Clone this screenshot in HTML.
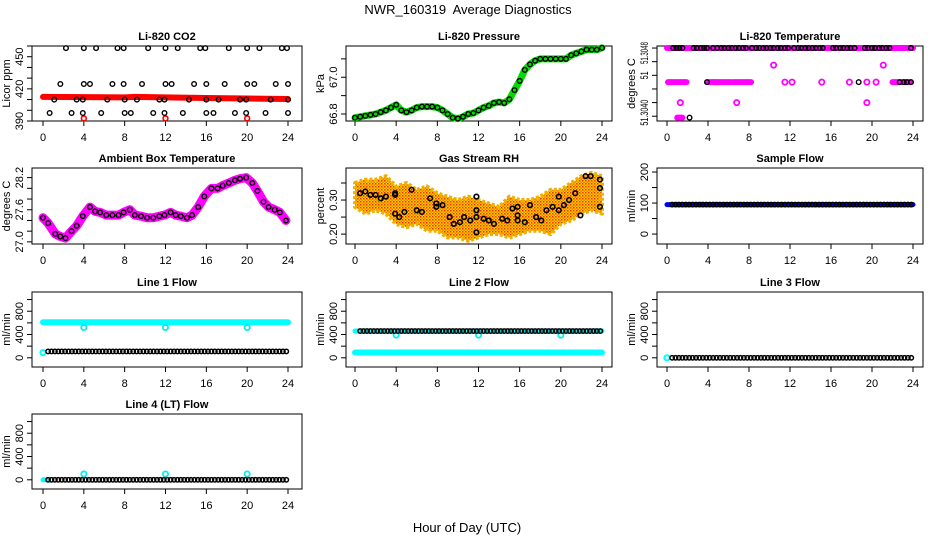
<!DOCTYPE html>
<html><head><meta charset="utf-8">
<style>
html,body{margin:0;padding:0;background:#fff;}
svg{display:block;font-family:"Liberation Sans",Arial,sans-serif;}
</style></head>
<body>
<svg id="chart" width="936" height="540" viewBox="0 0 936 540" xmlns="http://www.w3.org/2000/svg">
<defs>
<pattern id="rhpat" width="3" height="3" patternUnits="userSpaceOnUse">
<rect width="3" height="3" fill="#ffd000"/>
<rect width="1.5" height="1.5" fill="#f03000"/>
<rect x="1.5" y="1.5" width="1.5" height="1.5" fill="#f08000"/>
</pattern>
</defs>
<text x="468" y="14" text-anchor="middle" font-size="13">NWR_160319&#160; Average Diagnostics</text>
<text x="467" y="532" text-anchor="middle" font-size="13">Hour of Day (UTC)</text>
</svg>
<script>
// ---------- data ----------
const xTicks = [0,4,8,12,16,20,24];
// CO2
const co2TopX = [2.25,4.0,5.2,7.3,7.9,10.3,12.0,13.2,15.4,15.9,18.2,20.0,21.2,23.4,23.9];
const co2TopV = 458;
const co2R2X = [1.7,4.0,4.6,6.8,7.9,9.7,12,12.6,14.8,16,17.8,20,20.7,22.8,24];
const co2R2V = 424.5;
const co2R3X = [1.1,3.3,3.9,6.3,8,9.2,11.4,11.9,14.3,16,17.2,19.3,19.9,22.3,24];
const co2R3V = 410;
const co2R4X = [0.65,2.8,3.9,5.7,8,8.6,10.8,11.9,13.7,16,16.7,18.8,19.9,21.8,24];
const co2R4V = 397.5;
const co2RedHours = [0,4,8,9,12,16,20,24];
const co2RedVals = [412.5,412.3,412,412.5,412,411.5,411,410.5];
const co2RedOutX = [4,12,20];
const co2RedOutV = 392.5;
// Pressure (every 0.5 h)
const pressVals = [66.78,66.785,66.79,66.795,66.80,66.81,66.82,66.835,66.85,66.82,66.81,66.82,66.835,66.84,66.84,66.84,66.835,66.82,66.80,66.78,66.775,66.785,66.80,66.805,66.82,66.835,66.845,66.86,66.865,66.86,66.88,66.93,66.98,67.04,67.07,67.09,67.10,67.10,67.10,67.10,67.10,67.10,67.12,67.13,67.14,67.15,67.15,67.15,67.16];
// Li-820 temperature
const tempMagSegs = [[0,24,51.3048],[0.1,1.9,51.3043],[4.0,4.6,51.3043],[4.6,6.2,51.3043],[6.4,8.2,51.3043],[22.0,23.8,51.3043],[1.0,1.5,51.30378]];
const tempMagPtX = [11.5,12.2,15.1,17.8,19.5,20.4,10.4,21.1,1.3,6.8,19.5];
const tempMagPtV = [51.3043,51.3043,51.3043,51.3043,51.3043,51.3043,51.30455,51.30455,51.3040,51.3040,51.3040];
const tempBlkTopX = [0.6,0.9,1.2,1.5,2.6,2.9,3.3,3.6,3.9,4.5,4.9,5.3,5.6,6.0,6.3,6.7,7.0,7.4,7.7,8.3,8.7,9.0,9.4,9.7,10.1,10.4,10.8,11.1,11.5,11.8,12.4,12.8,13.1,13.5,13.8,14.2,14.5,14.9,15.2,16.2,16.5,16.9,17.2,17.6,17.9,18.3,19.3,19.6,20.0,20.3,20.7,21.0,21.4,21.7,23.8];
const tempBlkOtherX = [3.9,18.7,22.7,23.1,23.4,23.8,2.2];
const tempBlkOtherV = [51.3043,51.3043,51.3043,51.3043,51.3043,51.3043,51.30378];
// Ambient box temperature
const ambX = [0,0.5,1.2,1.7,2.2,2.8,3.3,3.9,4.6,5.1,5.6,6.2,6.8,7.4,7.9,8.5,9.0,9.6,10.2,10.8,11.4,11.9,12.5,13,13.5,14.1,14.6,15.2,15.8,16.5,17.1,17.6,18.2,18.8,19.3,19.9,20.5,21,21.6,22.1,22.7,23.2,23.8];
const ambV = [27.45,27.35,27.15,27.1,27.07,27.2,27.3,27.48,27.65,27.57,27.55,27.5,27.5,27.5,27.55,27.6,27.5,27.48,27.45,27.45,27.48,27.5,27.55,27.5,27.48,27.45,27.5,27.65,27.85,28.0,28.0,28.05,28.1,28.15,28.18,28.2,28.1,27.95,27.75,27.65,27.6,27.55,27.4];
// Gas stream RH
const rhBandX = [0,1,2,3,4,5,6,7,8,9,10,11,12,13,14,15,16,17,18,19,20,21,22,23,24];
const rhUpper = [0.35,0.36,0.36,0.37,0.34,0.35,0.33,0.34,0.32,0.31,0.30,0.31,0.30,0.29,0.28,0.31,0.30,0.30,0.31,0.33,0.33,0.35,0.37,0.38,0.37];
const rhLower = [0.28,0.26,0.27,0.26,0.23,0.22,0.23,0.21,0.21,0.19,0.19,0.18,0.19,0.20,0.20,0.19,0.20,0.21,0.21,0.20,0.23,0.24,0.26,0.27,0.26];
const rhX = [0.5,1,1.5,2,2.5,3,3.9,3.9,3.9,4.3,4.8,5.5,6,6.5,7.3,7.9,7.9,8.5,9.2,9.6,10.2,10.6,11.2,11.8,11.8,11.8,11.8,12.5,13,13.5,14.3,14.8,15.3,15.8,15.8,15.8,16.5,17.0,17.6,18.1,18.6,19.2,19.8,19.8,20.3,20.8,21.4,21.9,22.4,22.9,23.8,23.8,23.8];
const rhV = [0.32,0.325,0.315,0.315,0.305,0.31,0.315,0.32,0.26,0.25,0.265,0.33,0.27,0.265,0.305,0.28,0.29,0.285,0.25,0.23,0.235,0.25,0.24,0.31,0.27,0.25,0.205,0.245,0.24,0.23,0.245,0.24,0.275,0.28,0.255,0.24,0.235,0.285,0.25,0.24,0.27,0.28,0.31,0.27,0.285,0.30,0.32,0.255,0.37,0.37,0.36,0.335,0.28];
// Flows (hourly levels 0..24)
const sampleFlow = [95,95,95,95,95,95,95,95,95,95,95,95,95,95,95,95,95,95,95,95,95,95,95,95,95];
const line1Cyan = [610,610,610,610,610,610,610,610,610,610,610,610,610,610,610,610,610,610,610,610,610,610,610,610,610];
const line1Black = [110,110,110,110,110,110,110,110,110,110,110,110,110,110,110,110,110,110,110,110,110,110,110,110,110];
const line1OutX = [4,12,20]; const line1OutV = [520,520,520];
const line2Cyan = [90,90,90,90,90,90,90,90,90,90,90,90,90,90,90,90,90,90,90,90,90,90,90,90,90];
const line2Black = [460,460,460,460,460,460,460,460,460,460,460,460,460,460,460,460,460,460,460,460,460,460,460,460,460];
const line2OutX = [4,12,20]; const line2OutV = [390,390,390];
const line3Black = [0,0,0,0,0,0,0,0,0,0,0,0,0,0,0,0,0,0,0,0,0,0,0,0,0];
const line4Black = [0,0,0,0,0,0,0,0,0,0,0,0,0,0,0,0,0,0,0,0,0,0,0,0,0];
const line4OutX = [4,12,20]; const line4OutV = [100,100,100];

// ---------- layout ----------
const NS = "http://www.w3.org/2000/svg";
const svg = document.getElementById('chart');
const cols = [{l:32,r:302,x0:43,x24:288},{l:346,r:612,x0:355,x24:602},{l:657,r:923,x0:667,x24:913}];
const rows = [{t:46,b:121},{t:168,b:244},{t:292,b:367},{t:414,b:489}];
function mk(tag, attrs, parent){const e=document.createElementNS(NS,tag);for(const k in attrs)e.setAttribute(k,attrs[k]);(parent||svg).appendChild(e);return e;}

function panel(name, title, ytitle, c, r, yDom, yTicks, yLabels){
  const C=cols[c], R=rows[r];
  const g = mk('g',{});
  
  
  const xs = h => C.x0 + (C.x24-C.x0)*h/24;
  const ys = v => R.b - (R.b-R.t)*(v-yDom[0])/(yDom[1]-yDom[0]);
  const t = mk('text',{x:(C.l+C.r)/2,y:R.t-6,'text-anchor':'middle','font-size':11,'font-weight':'bold'},g);
  t.textContent = title;
  
  
  const box = mk('rect',{x:C.l,y:R.t,width:C.r-C.l,height:R.b-R.t,fill:'none',stroke:'#000','stroke-width':1},g);
  
  
  const xa = mk('g',{},g);
  
  
  mk('line',{x1:xs(0),x2:xs(24),y1:R.b,y2:R.b,stroke:'#000'},xa);
  xTicks.forEach(v=>{
    mk('line',{x1:xs(v),x2:xs(v),y1:R.b,y2:R.b+5,stroke:'#000'},xa);
    const tl = mk('text',{x:xs(v),y:R.b+20,'text-anchor':'middle','font-size':11},xa);
    tl.textContent = v;
  });
  const ya = mk('g',{},g);
  
  
  yTicks.forEach(v=>{
    const y=ys(v); mk('line',{x1:C.l-5,x2:C.l,y1:y,y2:y,stroke:'#000'},ya);
  });
  yLabels.forEach(([v,s,off,len])=>{
    const y=ys(v)+(off||0), x=C.l-9;
    const attrs = {x:x,y:y,'text-anchor':'middle','font-size':11,transform:`rotate(-90 ${x} ${y})`};
    if(len){attrs.textLength=len;attrs.lengthAdjust='spacingAndGlyphs';}
    const tl = mk('text',attrs,ya);
    tl.textContent = s;
  });
  const yt = mk('text',{x:C.l-22,y:(R.t+R.b)/2,'text-anchor':'middle','font-size':11,transform:`rotate(-90 ${C.l-22} ${(R.t+R.b)/2})`},g);
  yt.textContent = ytitle;
  
  
  const marks = mk('g',{},g);
  
  
  return {xs,ys,g:marks};
}
function circ(p,h,v,col,rad,sw){
  const e = mk('circle',{cx:p.xs(h),cy:p.ys(v),r:rad||2.3,fill:'none',stroke:col,'stroke-width':sw||1.4},p.g);
  
  
  return e;
}
function poly(p,xsArr,vArr,col,w){
  const pts = xsArr.map((h,i)=>p.xs(h)+','+p.ys(vArr[i])).join(' ');
  const e = mk('polyline',{points:pts,fill:'none',stroke:col,'stroke-width':w,'stroke-linejoin':'round','stroke-linecap':'round'},p.g);
  
  
  return e;
}
const hours = sampleFlow.map((_,i)=>i);
function flowDots(p,levels,col,start){
  levels.forEach((v,i)=>{ if(i>=24) return;
    [0,1/3,2/3].forEach(f=>{const h=i+f+(start||0); if(h<=24) circ(p,h,v,col,2.2,1.5);});
  });
}

// CO2
(function(){
  const p = panel('co2','Li-820 CO2','Licor ppm',0,0,[390,460],[390,400,410,420,430,440,450,460],[[390,'390'],[420,'420'],[450,'450']]);
  poly(p,co2RedHours,co2RedVals,'#ff0000',6);
  co2RedOutX.forEach(h=>circ(p,h,co2RedOutV,'#ff0000',2.4,1.6));
  [[co2TopX,co2TopV],[co2R2X,co2R2V],[co2R3X,co2R3V],[co2R4X,co2R4V]].forEach(([xa,v])=>xa.forEach(h=>circ(p,h,v,'#000')));
})();
// Pressure
(function(){
  const p = panel('pressure','Li-820 Pressure','kPa',1,0,[66.762,67.17],[66.8,66.9,67.0,67.1],[[66.8,'66.8'],[67.0,'67.0']]);
  const px = pressVals.map((_,i)=>i*0.5);
  poly(p,px,pressVals,'#00dd00',7);
  px.forEach((h,i)=>circ(p,h,pressVals[i],'#000'));
})();
// Li-820 temperature
(function(){
  const p = panel('li820-temp','Li-820 Temperature','degrees C',2,0,[51.30373,51.30483],[51.3048,51.3046,51.3044,51.3042,51.3040,51.3038],[[51.3048,'51.3048',5,22],[51.3044,'51',0,8],[51.3040,'51.3040',10,26]]);
  tempMagSegs.forEach(([a,b,v])=>poly(p,[a,b],[v,v],'#ff00ff',6));
  tempMagPtX.forEach((h,i)=>circ(p,h,tempMagPtV[i],'#ff00ff',2.6,1.8));
  tempBlkTopX.forEach(h=>circ(p,h,51.3048,'#000'));
  tempBlkOtherX.forEach((h,i)=>circ(p,h,tempBlkOtherV[i],'#000'));
})();
// Ambient
(function(){
  const p = panel('ambient','Ambient Box Temperature','degrees C',0,1,[26.96,28.38],[27.0,27.2,27.4,27.6,27.8,28.0,28.2],[[27.0,'27.0'],[27.6,'27.6'],[28.2,'28.2']]);
  poly(p,ambX,ambV,'#ff00ff',9);
  ambX.forEach((h,i)=>circ(p,h,ambV[i],'#000'));
})();
// RH
(function(){
  const p = panel('rh','Gas Stream RH','percent',1,1,[0.171,0.394],[0.20,0.25,0.30,0.35],[[0.20,'0.20'],[0.30,'0.30']]);
  const pts = rhBandX.map((h,i)=>p.xs(h)+','+p.ys(rhUpper[i])).concat(rhBandX.slice().reverse().map((h,j)=>{const i=rhBandX.length-1-j;return p.xs(h)+','+p.ys(rhLower[i]);})).join(' ');
  const band = mk('polygon',{points:pts,fill:'url(#rhpat)',stroke:'#f0b000','stroke-width':4,'stroke-linejoin':'round','stroke-dasharray':'3 2'},p.g);
  
  
  rhX.forEach((h,i)=>circ(p,h,rhV[i],'#000',2.3,1.6));
})();
// Sample flow
(function(){
  const p = panel('sample-flow','Sample Flow','ml/min',2,1,[-32,213],[0,50,100,150,200],[[0,'0'],[100,'100'],[200,'200']]);
  poly(p,hours,sampleFlow,'#0000ee',5);
  flowDots(p,sampleFlow,'#000',0.5);
})();
const flowDom=[-158,1130], flowTicks=[0,200,400,600,800,1000], flowLabels=[[0,'0'],[400,'400'],[800,'800']];
// Line 1
(function(){
  const p = panel('line1-flow','Line 1 Flow','ml/min',0,2,flowDom,flowTicks,flowLabels);
  poly(p,hours,line1Cyan,'#00ffff',6);
  line1OutX.forEach((h,i)=>circ(p,h,line1OutV[i],'#00eeee',2.6,1.8));
  circ(p,0,90,'#00ffff',2.6,2);
  flowDots(p,line1Black,'#000',0.5);
})();
// Line 2
(function(){
  const p = panel('line2-flow','Line 2 Flow','ml/min',1,2,flowDom,flowTicks,flowLabels);
  poly(p,hours,line2Cyan,'#00ffff',6);
  poly(p,[0,24],[line2Black[0],line2Black[24]],'#00ffff',5);
  line2OutX.forEach((h,i)=>circ(p,h,line2OutV[i],'#00eeee',2.6,1.8));
  flowDots(p,line2Black,'#000',0.5);
})();
// Line 3
(function(){
  const p = panel('line3-flow','Line 3 Flow','ml/min',2,2,flowDom,flowTicks,flowLabels);
  circ(p,0,0,'#00ffff',2.6,2);
  flowDots(p,line3Black,'#000',0.5);
})();
// Line 4
(function(){
  const p = panel('line4-flow','Line 4 (LT) Flow','ml/min',0,3,flowDom,flowTicks,flowLabels);
  poly(p,[0,0.3],[0,0],'#00ffff',5);
  line4OutX.forEach((h,i)=>circ(p,h,line4OutV[i],'#00eeee',2.6,1.8));
  flowDots(p,line4Black,'#000',0.5);
})();
</script>
</body></html>
